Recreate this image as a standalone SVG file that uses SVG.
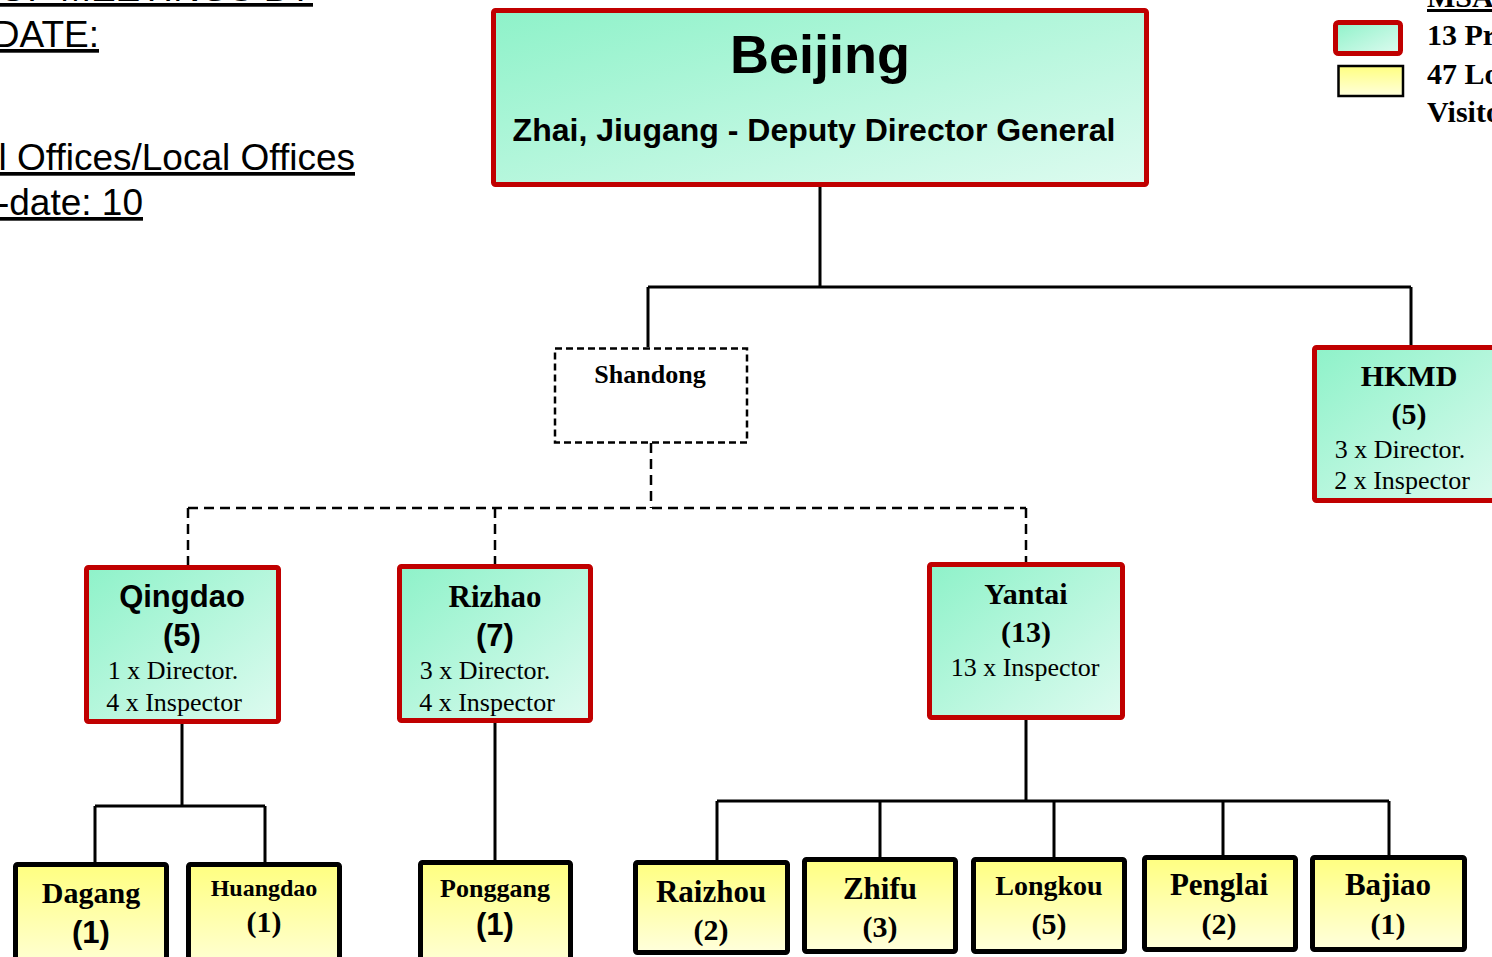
<svg xmlns="http://www.w3.org/2000/svg" width="1492" height="957" viewBox="0 0 1492 957">
<defs>
<linearGradient id="gGreen" x1="0" y1="0" x2="1" y2="1">
<stop offset="0" stop-color="#8ef2c9"/>
<stop offset="1" stop-color="#defbf0"/>
</linearGradient>
<linearGradient id="gYellow" x1="0" y1="0" x2="0" y2="1">
<stop offset="0" stop-color="#ffff80"/>
<stop offset="1" stop-color="#ffffdc"/>
</linearGradient>
<style>
.g{fill:url(#gGreen);stroke:#c00000;stroke-width:5}
.y{fill:url(#gYellow);stroke:#000;stroke-width:5}
.c{fill:none;stroke:#000;stroke-width:3}
.d{fill:none;stroke:#000;stroke-width:2.5;stroke-dasharray:10 6}
.sb{font-family:"Liberation Sans",Arial,sans-serif;font-weight:bold;text-anchor:middle;fill:#000}
.tb{font-family:"Liberation Serif","Times New Roman",serif;font-weight:bold;text-anchor:middle;fill:#000}
.tr{font-family:"Liberation Serif","Times New Roman",serif;text-anchor:middle;fill:#000}
.hd{font-family:"Liberation Sans",Arial,sans-serif;font-size:37px;text-anchor:end;text-decoration:underline;fill:#000}
.lg{font-family:"Liberation Serif","Times New Roman",serif;font-weight:bold;font-size:30px;fill:#000}
</style>
</defs>
<rect width="1492" height="957" fill="#fff"/>

<g id="header">
<text class="hd" x="313" y="1">OF MEETINGS BY</text>
<text class="hd" x="99" y="47">DATE:</text>
<text class="hd" x="355" y="170">l Offices/Local Offices</text>
<text class="hd" x="143" y="215">-date: 10</text>
</g>

<g id="legend">
<text class="lg" x="1427" y="7" text-decoration="underline">MSA</text>
<rect x="1335.5" y="22.5" width="65" height="31" rx="3" fill="url(#gGreen)" stroke="#c00000" stroke-width="5"/>
<rect x="1338.5" y="66" width="64.5" height="30" fill="url(#gYellow)" stroke="#000" stroke-width="2.5"/>
<text class="lg" x="1427" y="45">13 Pr</text>
<text class="lg" x="1427" y="84">47 Lo</text>
<text class="lg" x="1427" y="122">Visito</text>
</g>

<g id="connectors">
<path class="c" d="M820 187V287M648 287H1411M648 287V347M1411 287V345"/>
<path class="d" d="M651 443V508M188 508H1026M188 508V565M495 508V564M1026 508V562"/>
<path class="c" d="M182 724V806M95 806H265M95 806V862M265 806V862"/>
<path class="c" d="M495 723V860"/>
<path class="c" d="M1026 720V801M717 801H1389M717 801V860M880 801V857M1054 801V857M1223 801V855M1389 801V855"/>
</g>

<g id="beijing">
<rect class="g" x="493.5" y="10.5" width="653" height="174" rx="2"/>
<text class="sb" x="820" y="73" font-size="54">Beijing</text>
<text class="sb" x="814" y="141" font-size="32">Zhai, Jiugang - Deputy Director General</text>
</g>

<g id="shandong">
<rect x="555" y="348.5" width="192" height="94" fill="#fff" stroke="#000" stroke-width="2.5" stroke-dasharray="7 4"/>
<text class="tb" x="650" y="383" font-size="26">Shandong</text>
</g>

<g id="hkmd">
<rect class="g" x="1314.5" y="347.5" width="200" height="153" rx="2"/>
<text class="tb" x="1409" y="386" font-size="30">HKMD</text>
<text class="tb" x="1409" y="424" font-size="30">(5)</text>
<text class="tr" x="1400" y="458" font-size="26">3 x Director.</text>
<text class="tr" x="1402" y="489" font-size="26">2 x Inspector</text>
</g>

<g id="qingdao">
<rect class="g" x="86.5" y="567.5" width="192" height="154" rx="2"/>
<text class="sb" x="182" y="607" font-size="31">Qingdao</text>
<text class="sb" x="182" y="646" font-size="31">(5)</text>
<text class="tr" x="173" y="679" font-size="26">1 x Director.</text>
<text class="tr" x="174" y="711" font-size="26">4 x Inspector</text>
</g>

<g id="rizhao">
<rect class="g" x="399.5" y="566.5" width="191" height="154" rx="2"/>
<text class="tb" x="495" y="607" font-size="31">Rizhao</text>
<text class="sb" x="495" y="646" font-size="31">(7)</text>
<text class="tr" x="485" y="679" font-size="26">3 x Director.</text>
<text class="tr" x="487" y="711" font-size="26">4 x Inspector</text>
</g>

<g id="yantai">
<rect class="g" x="929.5" y="564.5" width="193" height="153" rx="2"/>
<text class="tb" x="1026" y="604" font-size="30">Yantai</text>
<text class="tb" x="1026" y="642" font-size="30">(13)</text>
<text class="tr" x="1025" y="676" font-size="26">13 x Inspector</text>
</g>

<g id="dagang">
<rect class="y" x="15.5" y="864.5" width="151" height="110" rx="2"/>
<text class="tb" x="91" y="903" font-size="30">Dagang</text>
<text class="sb" x="91" y="943" font-size="31">(1)</text>
</g>

<g id="huangdao">
<rect class="y" x="188.5" y="864.5" width="151" height="110" rx="2"/>
<text class="tb" x="264" y="896" font-size="24">Huangdao</text>
<text class="tb" x="264" y="932" font-size="30">(1)</text>
</g>

<g id="ponggang">
<rect class="y" x="420.5" y="862.5" width="150" height="110" rx="2"/>
<text class="tb" x="495" y="897" font-size="26">Ponggang</text>
<text class="sb" x="495" y="935" font-size="31">(1)</text>
</g>

<g id="raizhou">
<rect class="y" x="635.5" y="862.5" width="152" height="90" rx="2"/>
<text class="tb" x="711" y="902" font-size="31">Raizhou</text>
<text class="tb" x="711" y="940" font-size="30">(2)</text>
</g>

<g id="zhifu">
<rect class="y" x="804.5" y="859.5" width="151" height="92" rx="2"/>
<text class="tb" x="880" y="899" font-size="31">Zhifu</text>
<text class="tb" x="880" y="937" font-size="30">(3)</text>
</g>

<g id="longkou">
<rect class="y" x="973.5" y="859.5" width="151" height="92" rx="2"/>
<text class="tb" x="1049" y="895" font-size="28">Longkou</text>
<text class="tb" x="1049" y="934" font-size="30">(5)</text>
</g>

<g id="penglai">
<rect class="y" x="1144.5" y="857.5" width="151" height="92" rx="2"/>
<text class="tb" x="1219" y="895" font-size="31">Penglai</text>
<text class="tb" x="1219" y="934" font-size="30">(2)</text>
</g>

<g id="bajiao">
<rect class="y" x="1312.5" y="857.5" width="152" height="92" rx="2"/>
<text class="tb" x="1388" y="895" font-size="31">Bajiao</text>
<text class="tb" x="1388" y="934" font-size="30">(1)</text>
</g>
</svg>
